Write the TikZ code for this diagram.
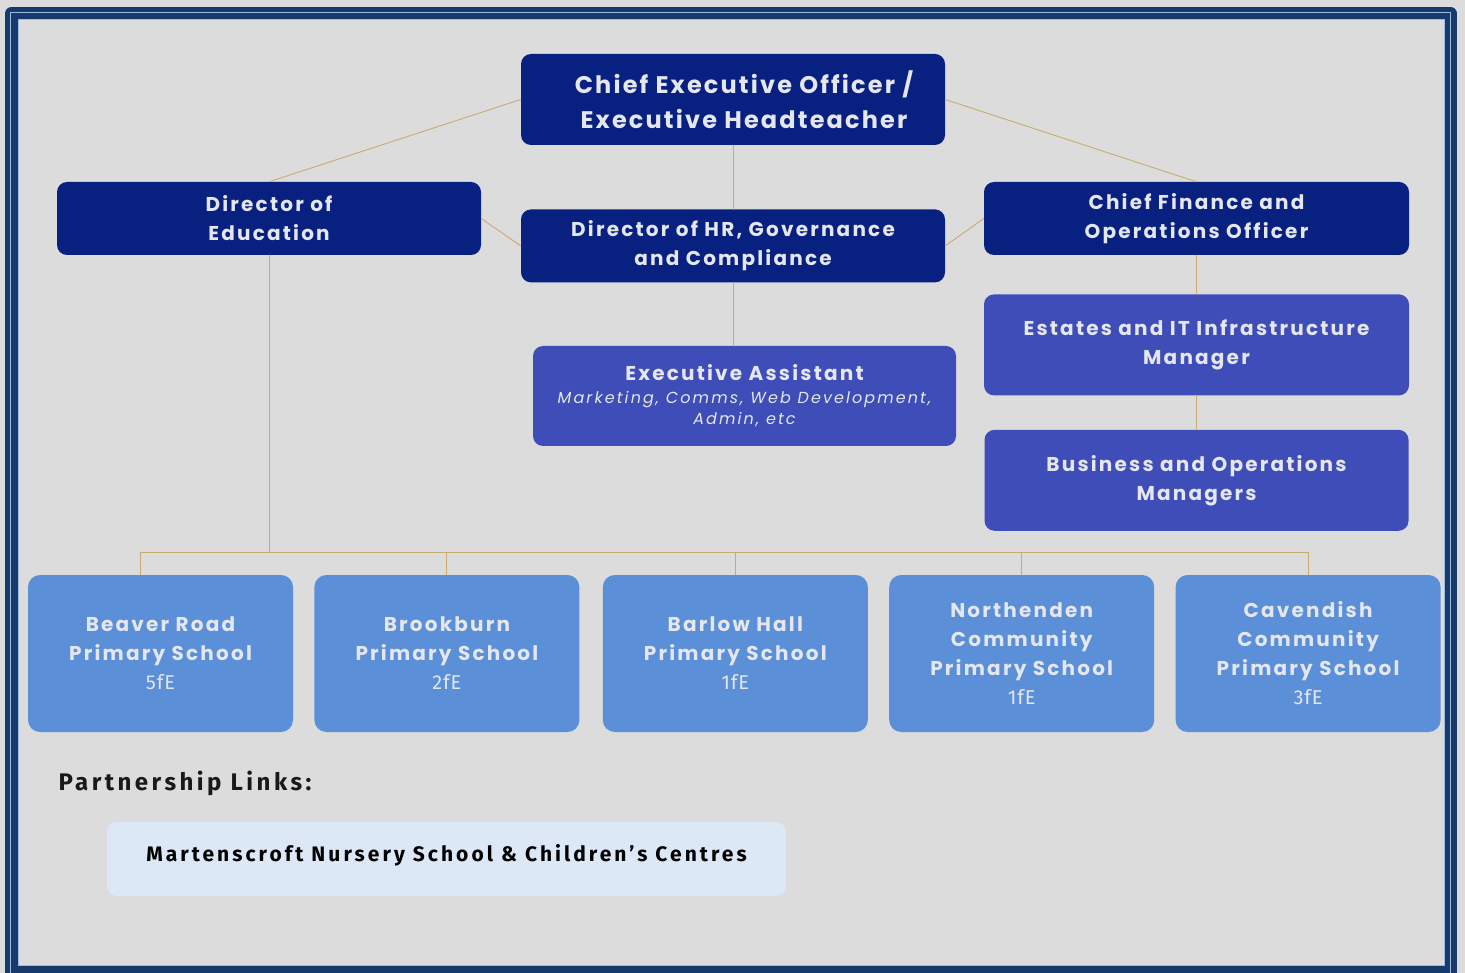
\documentclass[tikz,border=0pt]{standalone}
\usepackage{fontspec}
\setmainfont{Poppins}[LetterSpace=11]
\newfontfamily\narrowfont{Fira Sans}[LetterSpace=14.5]
\usepackage{tikz}
\usetikzlibrary{positioning}
\definecolor{pagegrey}{HTML}{DCDCDD}
\definecolor{framenavy}{HTML}{163A6C}
\definecolor{frameline}{HTML}{9DB9DD}
\definecolor{leadblue}{HTML}{08207F}
\definecolor{staffblue}{HTML}{3E4DB8}
\definecolor{schoolblue}{HTML}{5B8FD8}
\definecolor{partnerblue}{HTML}{DDE8F7}
\definecolor{boxtext}{HTML}{E4E6F0}
\definecolor{linktan}{HTML}{CBAA72}
\tikzset{
every picture/.style={line cap=round,line join=round},
org box/.style={
  rounded corners=10pt,
  align=center,
  inner sep=0pt,
  text=boxtext,
  minimum width=424pt,
  minimum height=73pt,
  font=\bfseries\fontsize{20}{29}\selectfont
},
lead box/.style={org box, fill=leadblue},
staff box/.style={org box, fill=staffblue, minimum height=101pt},
school box/.style={org box, fill=schoolblue, minimum width=265pt, minimum height=157pt, rounded corners=12pt},
partner box/.style={org box, fill=partnerblue, text=black, minimum width=679pt, minimum height=74pt,
  text depth=12pt, font=\narrowfont\bfseries\fontsize{21}{26}\selectfont},
org link/.style={draw=linktan, line width=0.9pt}
}
\newcommand{\fe}[1]{{\narrowfont\mdseries\addfontfeatures{LetterSpace=4}#1}}
\newcommand{\subline}[1]{{\mdseries\itshape\fontsize{16}{23}\selectfont\addfontfeatures{LetterSpace=13}#1}}

\begin{document}
\begin{tikzpicture}[x=1pt,y=-1pt]
\useasboundingbox (0,0) rectangle (1465,973);
\fill[pagegrey] (0,0) rectangle (1465,973);
% double frame round the chart
\draw[framenavy, line width=13pt] (11.5,13.5) rectangle (1450.5,972.5);
\draw[frameline, line width=1.2pt] (10.5,12.5) rectangle (1450.5,973.5);
\draw[frameline, line width=1pt] (18,20) rectangle (1444,965.5);

% leadership
\node[lead box, minimum height=91pt, font=\bfseries\fontsize{24}{35}\selectfont\addfontfeatures{LetterSpace=9}] (ceo) at (733,99.5)
  {\hspace*{22pt}Chief Executive Officer /\\\hspace*{22pt}Executive Headteacher};
\node[lead box] (doe) at (269,218.5) {Director of\\Education};
\node[lead box,below=64pt of ceo] (hr) {Director of HR, Governance\\and Compliance};
\node[lead box,minimum width=425pt] (cfoo) at (1196.5,218.5) {Chief Finance and\\Operations Officer};

% central and operations staff
\node[staff box,minimum width=423pt,minimum height=100pt] (ea) at (744.5,396)
  {Executive Assistant\\[-6pt]\subline{Marketing, Comms, Web Development,}\\[-8pt]\subline{Admin, etc}};
\node[staff box,minimum width=425pt,below=39pt of cfoo] (estates) {Estates and IT Infrastructure\\Manager};
\node[staff box,below=34pt of estates] (bom) {Business and Operations\\Managers};

% schools
\node[school box] (beaver) at (160.5,653.5) {Beaver Road\\Primary School\\\fe{5fE}};
\node[school box,right=21pt of beaver] (brook) {Brookburn\\Primary School\\\fe{2fE}};
\node[school box,right=23pt of brook] (barlow) {Barlow Hall\\Primary School\\\fe{1fE}};
\node[school box,right=21pt of barlow] (north) {Northenden\\Community\\Primary School\\\fe{1fE}};
\node[school box,right=21pt of north] (cav) {Cavendish\\Community\\Primary School\\\fe{3fE}};

% partnership
\node[anchor=west, font=\narrowfont\bfseries\fontsize{24}{28}\selectfont, text=black!90] (plinks) at (55,783)
  {Partnership Links:};
\node[partner box] (marten) at (446.5,859) {Martenscroft Nursery School \& Children’s Centres};

% connectors
\draw[org link] (ceo.west) -- (doe.north);
\draw[org link] (ceo.east) -- (cfoo.north);
\draw[org link] (ceo.south) -- (hr.north);
\draw[org link] (doe.east) -- (hr.west);
\draw[org link] (hr.east) -- (cfoo.west);
\draw[org link] (hr.south) -- (hr.south |- ea.north);
\draw[org link] (cfoo.south) -- (estates.north);
\draw[org link] (estates.south) -- (bom.north);
\coordinate (bus) at (0,552);
\draw[org link] (doe.south) -- (doe.south |- bus);
\coordinate (beavertop) at ([xshift=-20pt]beaver.north);
\draw[org link] (beavertop) -- (beavertop |- bus) -- (cav.north |- bus) -- (cav.north);
\draw[org link] (brook.north) -- (brook.north |- bus);
\draw[org link] (barlow.north) -- (barlow.north |- bus);
\draw[org link] (north.north) -- (north.north |- bus);
\end{tikzpicture}
\end{document}
